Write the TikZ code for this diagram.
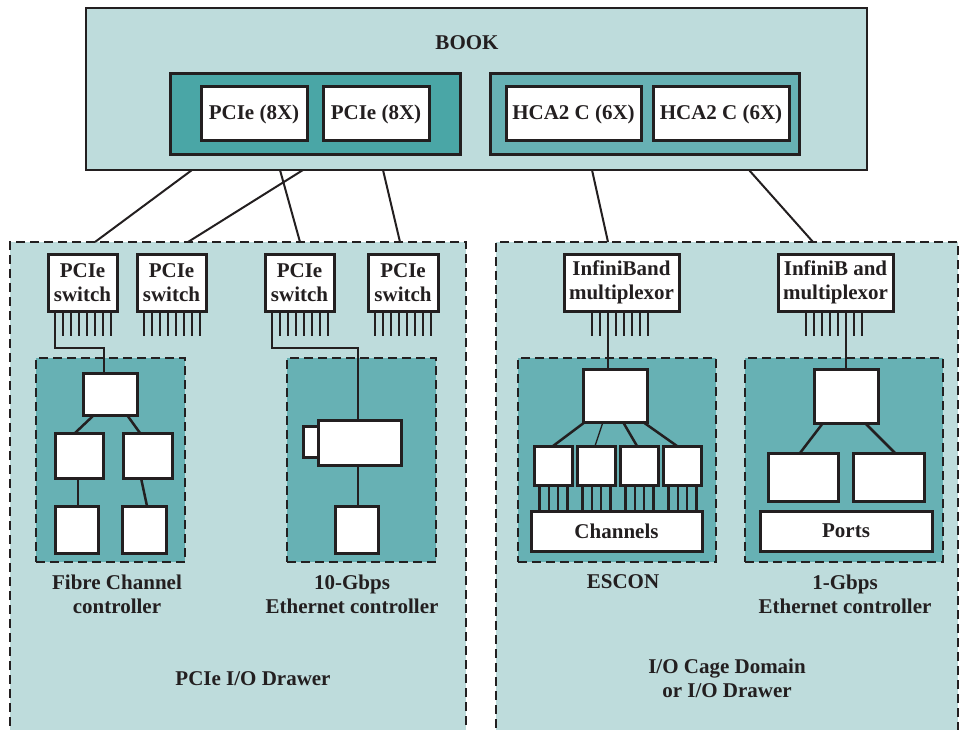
\documentclass[tikz,border=0pt]{standalone}
\usepackage{fontspec}
\setmainfont{Liberation Serif}
\definecolor{lt}{HTML}{BEDCDC}
\definecolor{dk}{HTML}{4AA6A6}
\definecolor{md}{HTML}{67B1B4}
\definecolor{ink}{HTML}{231F20}
% \rect[options]{name}{x1}{y1}{x2}{y2}{text}
\newcommand\rect[7][]{\node[rbox,#1,minimum width={#5pt-#3pt},minimum height={#6pt-#4pt}] (#2) at (#3,#4) {#7};}
\begin{document}
\begin{tikzpicture}[x=1pt,y=-1pt,
  font=\fontsize{21}{24}\selectfont\bfseries, text=ink,
  rbox/.style={draw=ink, line width=3pt, fill=white, inner sep=0pt, outer sep=0pt, anchor=north west, align=center},
  bookbox/.style={fill=lt, line width=2.6pt},
  drawer/.style={fill=lt, line width=2.6pt, dash pattern=on 9pt off 5pt},
  ctrl/.style={fill=md, line width=2.6pt, dash pattern=on 9pt off 5pt},
  conn/.style={draw=ink, line width=2pt},
  tree/.style={draw=ink, line width=2.5pt},
  pin/.style={draw=ink, line width=2.4pt},
  lbl/.style={inner sep=0pt, align=center}]
\useasboundingbox (0,0) rectangle (961,730);

% BOOK
\rect[bookbox]{book}{86}{8}{867}{170}{}
\node[lbl, anchor=base] (booklbl) at (467,50) {BOOK};
\rect[fill=dk]{pin1}{170}{74}{460}{155}{}
\rect[fill=md]{hin}{490}{74}{799}{155}{}
\rect{p1}{201}{87}{307}{141}{PCIe (8X)}
\rect{p2}{323}{87}{429}{141}{PCIe (8X)}
\rect{h1}{506}{87}{641}{141}{HCA2 C (6X)}
\rect{h2}{653}{87}{789}{141}{HCA2 C (6X)}

% drawers
\rect[drawer]{ldr}{10}{242}{466}{745}{}
\rect[drawer]{rdr}{496}{242}{958}{745}{}

% connectors book -> drawers
\draw[conn] ([xshift=106pt]book.south west) -- ([xshift=85pt]ldr.north west);
\draw[conn] ([xshift=217pt]book.south west) -- ([xshift=178pt]ldr.north west);
\draw[conn] ([xshift=194pt]book.south west) -- ([xshift=290pt]ldr.north west);
\draw[conn] ([xshift=297pt]book.south west) -- ([xshift=390pt]ldr.north west);
\draw[conn] ([xshift=506pt]book.south west) -- ([xshift=112pt]rdr.north west);
\draw[conn] ([xshift=663pt]book.south west) -- ([xshift=317pt]rdr.north west);

% controller boxes
\rect[ctrl]{fcbox}{36}{358}{185}{562}{}
\rect[ctrl]{ethbox}{287}{358}{436}{562}{}
\rect[ctrl]{escbox}{518}{358}{716}{562}{}
\rect[ctrl]{gbox}{745}{358}{943}{562}{}

% switches and multiplexors
\rect{s1}{48}{254}{117}{311}{PCIe\\switch}
\rect{s2}{137}{254}{206}{311}{PCIe\\switch}
\rect{s3}{265}{254}{334}{311}{PCIe\\switch}
\rect{s4}{368}{254}{438}{311}{PCIe\\switch}
\rect{m1}{564}{254}{679}{311}{InfiniBand\\multiplexor}
\rect{m2}{778}{254}{893}{311}{InfiniB and\\multiplexor}
\foreach \s in {s1,s2,s3,s4}{
  \foreach \i in {0,...,7}
    \draw[pin] ([xshift={7pt+\i*8pt}]\s.south west) -- ++(0,25);
}
\foreach \s in {m1,m2}{
  \foreach \i in {0,...,7}
    \draw[pin] ([xshift={28pt+\i*8pt}]\s.south west) -- ++(0,25);
}

% Fibre Channel controller
\rect{fctop}{83}{373}{137}{415}{}
\rect{fa}{55}{433}{103}{478}{}
\rect{fb}{123}{433}{172}{478}{}
\rect{fc}{55}{506}{98}{553}{}
\rect{fd}{122}{506}{166}{553}{}
\draw[tree] ([xshift=7pt]s1.south west) -- ++(0,37) -| ([xshift=21pt]fctop.north west);
\draw[tree] ([xshift=11pt]fctop.south west) -- ([xshift=20pt]fa.north west);
\draw[tree] ([xshift=44pt]fctop.south west) -- ([xshift=17pt]fb.north west);
\draw[tree] ([xshift=23pt]fa.south west) -- ([xshift=23pt]fc.north west);
\draw[tree] ([xshift=18pt]fb.south west) -- ([xshift=25pt]fd.north west);

% 10-Gbps Ethernet controller
\rect{ethtab}{303}{426}{318}{457}{}
\rect{ethbig}{318}{420}{401}{465}{}
\rect{ethbot}{335}{506}{378}{553}{}
\draw[tree] ([xshift=7pt]s3.south west) -- ++(0,37) -| ([xshift=40pt]ethbig.north west);
\draw[tree] ([xshift=40pt]ethbig.south west) -- ([xshift=23pt]ethbot.north west);

% ESCON
\rect{esctop}{583}{369}{647}{422}{}
\rect{e1}{534}{446}{572}{485}{}
\rect{e2}{577}{446}{615}{485}{}
\rect{e3}{620}{446}{658}{485}{}
\rect{e4}{663}{446}{701}{485}{}
\rect{chan}{531}{511}{702}{551}{Channels}
\draw[tree] ([xshift=44pt]m1.south west) -- ([xshift=25pt]esctop.north west);
\draw[tree] ([xshift=2pt]esctop.south west) -- ([xshift=19pt]e1.north west);
\draw[draw=ink, line width=1.3pt] ([xshift=20pt]esctop.south west) -- ([xshift=18pt]e2.north west);
\draw[tree] ([xshift=40pt]esctop.south west) -- ([xshift=17pt]e3.north west);
\draw[tree] ([xshift=60pt]esctop.south west) -- ([xshift=14pt]e4.north west);
\foreach \s in {e1,e2,e3,e4}{
  \foreach \i in {0,...,3}
    \draw[pin] ([xshift={5.5pt+\i*9.3pt}]\s.south west) -- ++(0,26);
}

% 1-Gbps Ethernet controller
\rect{gtop}{814}{369}{878}{423}{}
\rect{ga}{768}{453}{838}{501}{}
\rect{gb}{853}{453}{924}{501}{}
\rect{ports}{760}{511}{932}{551}{Ports}
\draw[tree] ([xshift=68pt]m2.south west) -- ([xshift=32pt]gtop.north west);
\draw[tree] ([xshift=9pt]gtop.south west) -- ([xshift=32pt]ga.north west);
\draw[tree] ([xshift=51pt]gtop.south west) -- ([xshift=42pt]gb.north west);

% labels
\node[lbl] (fclbl) at (117,594) {Fibre Channel\\controller};
\node[lbl] (ethlbl) at (352,594) {10-Gbps\\Ethernet controller};
\node[lbl, anchor=base] (pcielbl) at (253,685) {PCIe I/O Drawer};
\node[lbl, anchor=base] (esclbl) at (623,588) {ESCON};
\node[lbl] (glbl) at (845,594) {1-Gbps\\Ethernet controller};
\node[lbl] (cagelbl) at (727,678) {I/O Cage Domain\\or I/O Drawer};
\end{tikzpicture}
\end{document}
